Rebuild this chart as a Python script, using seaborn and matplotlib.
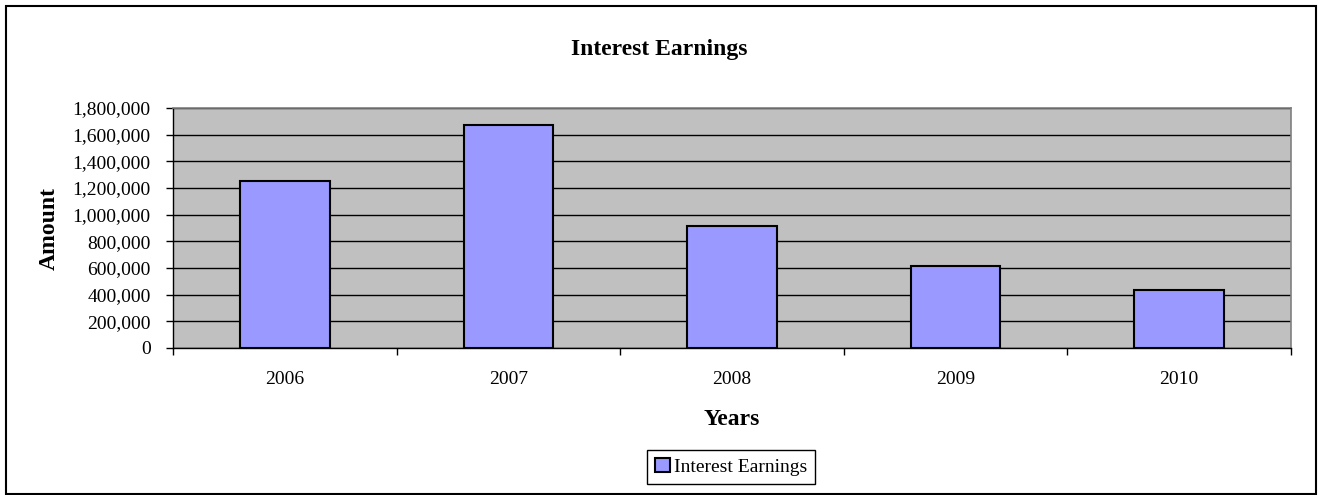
#!/usr/bin/env python3
"""Interest earnings per year, drawn as an Excel-style bar chart."""

import matplotlib.pyplot as plt
import pandas as pd
import seaborn as sns
from matplotlib.patches import Patch, Rectangle
from matplotlib.ticker import FuncFormatter, MultipleLocator

YEARS = ["2006", "2007", "2008", "2009", "2010"]
EARNINGS = [1250000, 1672000, 917000, 617000, 434000]
SERIES_NAME = "Interest Earnings"

FIG_W, FIG_H = 1318, 495
BAR_COLOR = "#9999FF"
PLOT_BG = "#C0C0C0"
SERIF = ["Liberation Serif", "DejaVu Serif"]


def main() -> None:
    sns.set_theme(style="white")
    plt.rcParams["font.family"] = SERIF
    plt.rcParams["text.color"] = "black"
    plt.rcParams["axes.labelcolor"] = "black"
    plt.rcParams["xtick.color"] = "black"
    plt.rcParams["ytick.color"] = "black"

    df = pd.DataFrame({"year": YEARS, "amount": EARNINGS})

    fig = plt.figure(figsize=(FIG_W / 100, FIG_H / 100), dpi=100)
    left, right, top, bottom = 173, 1291, 108, 348
    ax = fig.add_axes([left / FIG_W, 1 - bottom / FIG_H,
                       (right - left) / FIG_W, (bottom - top) / FIG_H])

    sns.barplot(data=df, x="year", y="amount", color=BAR_COLOR, edgecolor="black",
                linewidth=1.5, width=0.4, saturation=1, ax=ax, zorder=3)

    ax.set_facecolor(PLOT_BG)
    ax.set_ylim(0, 1800000)
    ax.set_xlim(-0.5, len(YEARS) - 0.5)
    ax.yaxis.set_major_locator(MultipleLocator(200000))
    ax.yaxis.set_major_formatter(FuncFormatter(lambda v, _: f"{int(v):,}"))
    ax.grid(axis="y", color="black", linewidth=1, zorder=0)
    ax.set_axisbelow(True)

    for side in ["top", "right"]:
        ax.spines[side].set_color("#808080")
        ax.spines[side].set_linewidth(1.2)
    for side in ["left", "bottom"]:
        ax.spines[side].set_color("black")
        ax.spines[side].set_linewidth(1)

    ax.tick_params(axis="y", which="major", direction="out", length=5, width=1,
                   labelsize=14, pad=11, left=True)
    ax.tick_params(axis="x", which="major", length=0, labelsize=14, pad=16.5)
    ax.set_xticks([i + 0.5 for i in range(len(YEARS) - 1)] + [-0.5, len(YEARS) - 0.5],
                  minor=True)
    ax.tick_params(axis="x", which="minor", direction="out", length=5, width=1,
                   bottom=True)

    ax.set_xlabel("Years", fontsize=17, fontweight="bold", labelpad=15)
    ax.set_ylabel("Amount", fontsize=17, fontweight="bold", labelpad=9)

    fig.text(0.5, 1 - 49 / FIG_H, "Interest Earnings", ha="center", va="center",
             fontsize=17, fontweight="bold")

    handle = Patch(facecolor=BAR_COLOR, edgecolor="black", linewidth=1.5)
    fig.legend([handle], [SERIES_NAME], loc="center",
               bbox_to_anchor=(731 / FIG_W, 1 - 467 / FIG_H), fontsize=14,
               frameon=True, fancybox=False, edgecolor="black", framealpha=1,
               handlelength=0.75, handleheight=0.75, handletextpad=0.2,
               borderpad=0.4, borderaxespad=0)

    fig.patches.append(Rectangle((6 / FIG_W, 1 / FIG_H), 1310 / FIG_W, 488 / FIG_H,
                                 transform=fig.transFigure, fill=False,
                                 edgecolor="black", linewidth=1.5))

    fig.savefig("out.png", dpi=100, facecolor="white")
    plt.close(fig)


if __name__ == "__main__":
    main()
